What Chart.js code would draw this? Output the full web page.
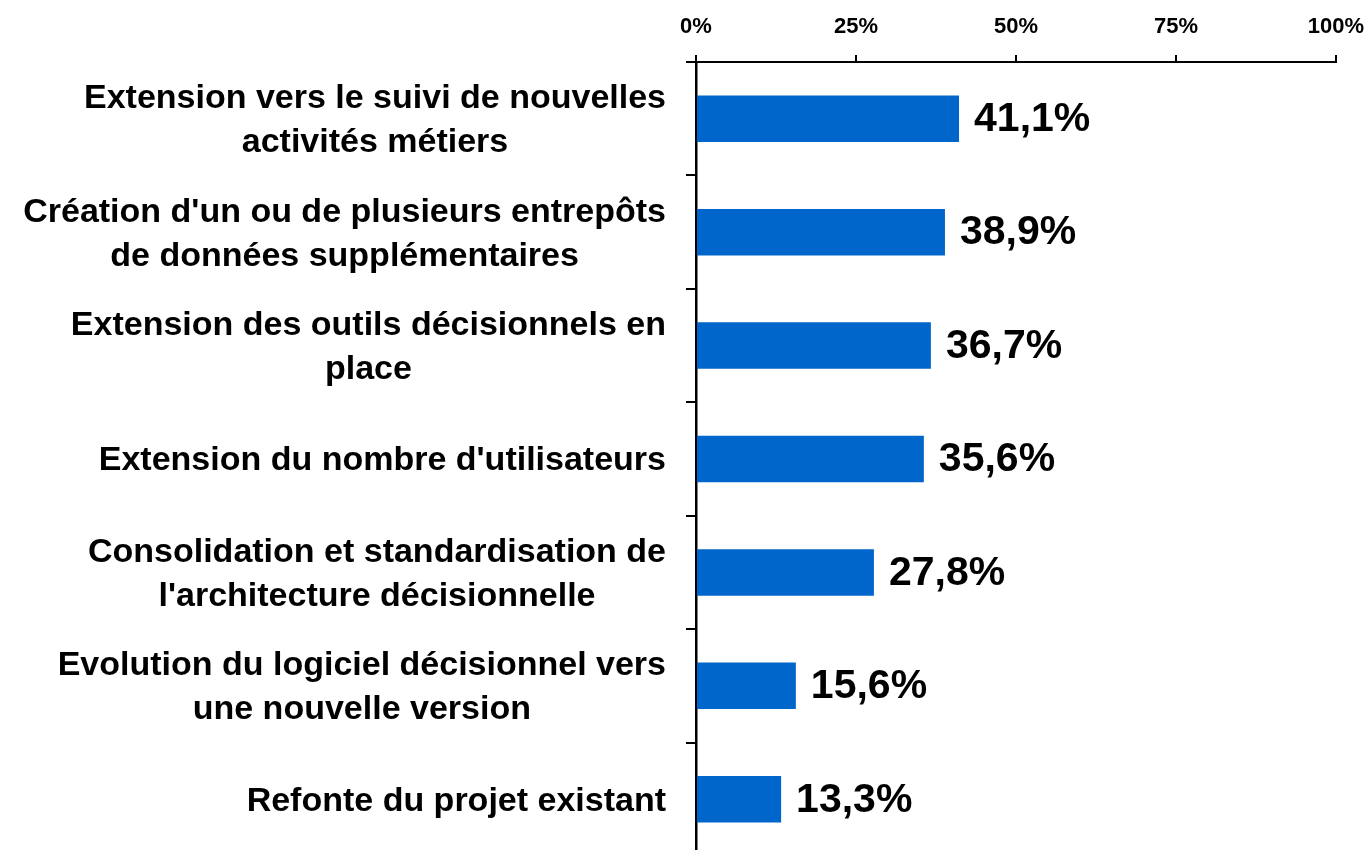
<!DOCTYPE html>
<html lang="fr">
<head>
<meta charset="utf-8">
<title>Evolutions envisagées</title>
<script src="https://cdn.jsdelivr.net/npm/chart.js@4.4.1/dist/chart.umd.min.js"></script>
<style>
  html, body { margin: 0; padding: 0; background: #fff; overflow: hidden; }
  #wrap { width: 1371px; height: 856px; }
</style>
</head>
<body>
<div id="wrap"><canvas id="barChart"></canvas></div>
<script>
const categories = [
  ["Extension vers le suivi de nouvelles", "activités métiers"],
  ["Création d'un ou de plusieurs entrepôts", "de données supplémentaires"],
  ["Extension des outils décisionnels en", "place"],
  "Extension du nombre d'utilisateurs",
  ["Consolidation et standardisation de", "l'architecture décisionnelle"],
  ["Evolution du logiciel décisionnel vers", "une nouvelle version"],
  "Refonte du projet existant"
];
const values = [41.1, 38.9, 36.7, 35.6, 27.8, 15.6, 13.3];
const tickValues = [0, 25, 50, 75, 100];

const FONT = '"Liberation Sans", Arial, sans-serif';
const barColor = "#0066CC";

const fmt = (v) => v.toFixed(1).replace(".", ",") + "%";

// category labels: each block centred on itself, widest line ending near the ticks
const categoryLabels = {
  id: "categoryLabels",
  afterDraw(chart) {
    const ctx = chart.ctx;
    const yScale = chart.scales.y;
    const right = yScale.right - 10 - 20;
    const lineH = 44;
    ctx.save();
    ctx.font = "bold 34px " + FONT;
    ctx.fillStyle = "#000";
    ctx.textAlign = "center";
    ctx.textBaseline = "middle";
    categories.forEach((lab, i) => {
      const lines = Array.isArray(lab) ? lab : [lab];
      const widest = Math.max(...lines.map((l) => ctx.measureText(l).width));
      const cx = right - widest / 2;
      const cy = yScale.getPixelForTick(i) + 2;
      lines.forEach((l, j) => {
        ctx.fillText(l, cx, cy + (j - (lines.length - 1) / 2) * lineH);
      });
    });
    ctx.restore();
  }
};

const valueLabels = {
  id: "valueLabels",
  afterDatasetsDraw(chart) {
    const ctx = chart.ctx;
    const meta = chart.getDatasetMeta(0);
    ctx.save();
    ctx.font = "bold 41px " + FONT;
    ctx.fillStyle = "#000";
    ctx.textAlign = "left";
    ctx.textBaseline = "middle";
    meta.data.forEach((bar, i) => {
      ctx.fillText(fmt(values[i]), bar.x + 15, bar.y + 1);
    });
    ctx.restore();
  }
};

new Chart(document.getElementById("barChart"), {
  type: "bar",
  data: {
    labels: categories,
    datasets: [{
      data: values,
      backgroundColor: barColor,
      borderWidth: 0,
      categoryPercentage: 1,
      barPercentage: 0.41
    }]
  },
  options: {
    indexAxis: "y",
    responsive: true,
    maintainAspectRatio: false,
    animation: false,
    layout: { padding: { top: 0, right: 35, bottom: 0, left: 0 } },
    plugins: {
      legend: { display: false },
      tooltip: { enabled: false }
    },
    scales: {
      x: {
        position: "top",
        min: 0,
        max: 100,
        afterBuildTicks: (s) => { s.ticks = tickValues.map((v) => ({ value: v })); },
        ticks: {
          callback: (v) => v + "%",
          color: "#000",
          padding: 15,
          maxRotation: 0,
          font: { family: FONT, size: 22, weight: "bold" }
        },
        grid: { drawOnChartArea: false, tickLength: 7, color: "#000", lineWidth: 2 },
        border: { color: "#000", width: 2 },
        afterFit: (s) => { s.height = 62; s.paddingLeft = 0; s.paddingRight = 0; }
      },
      y: {
        position: "left",
        ticks: { display: false },
        grid: { offset: true, drawOnChartArea: false, tickLength: 10, color: "#000", lineWidth: 2 },
        border: { color: "#000", width: 2.5 },
        afterFit: (s) => { s.width = 696; s.paddingTop = 0; s.paddingBottom = 0; }
      }
    }
  },
  plugins: [categoryLabels, valueLabels]
});
</script>
</body>
</html>
